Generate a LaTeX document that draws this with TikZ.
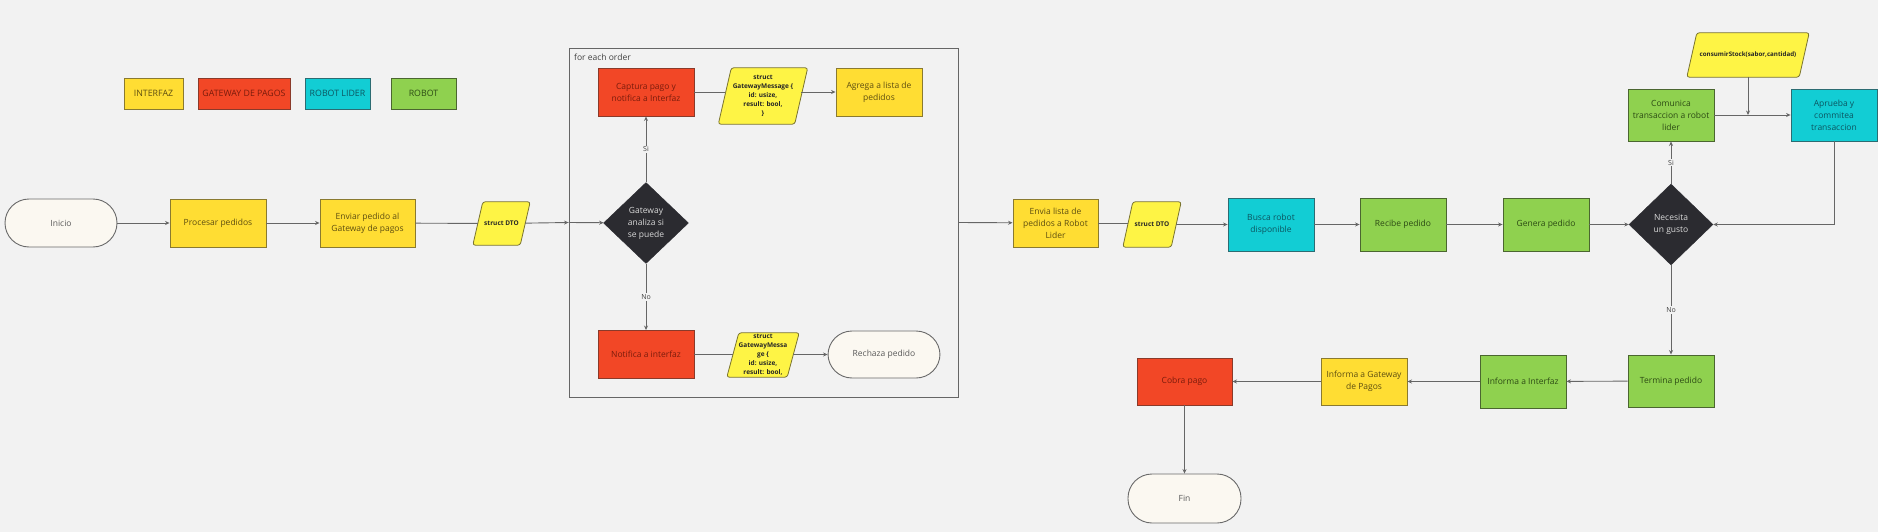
\documentclass[tikz,border=0pt]{standalone}
\usepackage{fontspec}
\setmainfont{Open Sans}
\usetikzlibrary{shapes.geometric,arrows.meta,backgrounds}
\definecolor{bg}{HTML}{F2F2F2}
\definecolor{yfill}{HTML}{FFDD33}
\definecolor{ydraw}{HTML}{8A7A30}
\definecolor{ytext}{HTML}{5E4E10}
\definecolor{rfill}{HTML}{F24726}
\definecolor{rdraw}{HTML}{8A3A2A}
\definecolor{rtext}{HTML}{7A1C0C}
\definecolor{cfill}{HTML}{12CDD4}
\definecolor{cdraw}{HTML}{2C6C72}
\definecolor{ctext}{HTML}{0C5560}
\definecolor{gfill}{HTML}{8FD14F}
\definecolor{gdraw}{HTML}{4B6630}
\definecolor{gtext}{HTML}{2C4A14}
\definecolor{dfill}{HTML}{2B2B30}
\definecolor{pfill}{HTML}{FEF445}
\definecolor{pdraw}{HTML}{7A7430}
\definecolor{tfill}{HTML}{FBF8F1}
\definecolor{tdraw}{HTML}{6A6A6A}
\definecolor{lcol}{HTML}{666666}
\tikzset{
  box/.style={rectangle, draw, line width=0.9pt, minimum width=96pt, minimum height=48pt,
    inner sep=2pt, align=center, font=\fontsize{8.5}{12}\selectfont},
  ybox/.style={box, fill=yfill, draw=ydraw, text=ytext},
  rbox/.style={box, fill=rfill, draw=rdraw, text=rtext},
  cbox/.style={box, fill=cfill, draw=cdraw, text=ctext},
  gbox/.style={box, fill=gfill, draw=gdraw, text=gtext},
  legbox/.style={rectangle, draw, line width=0.9pt, minimum height=31pt, inner sep=1pt,
    font=\fontsize{8.8}{10}\selectfont},
  term/.style={rectangle, rounded corners=24pt, draw=tdraw, fill=tfill, line width=0.9pt,
    text=black!65, minimum height=48pt, font=\fontsize{8.5}{12}\selectfont},
  dec/.style={diamond, fill=dfill, draw=dfill, text=white!85!black, inner sep=0pt,
    minimum width=85pt, minimum height=81pt, align=center, font=\fontsize{8.5}{12}\selectfont},
  para/.style={rectangle, inner sep=0pt, align=center, text=black!85,
    font=\bfseries\fontsize{6.5}{9}\selectfont},
  parashape/.style={rounded corners=2.5pt, fill=pfill, draw=pdraw, line width=0.8pt},
  conn/.style={draw=lcol, line width=0.9pt},
  arr/.style={conn, -{Stealth[length=4.5pt,width=4pt]}},
  lab/.style={fill=bg, inner sep=1.2pt, text=black!75, font=\fontsize{7}{8}\selectfont},
}
\newcommand{\pgram}[2]{%
  \begin{pgfonlayer}{background}
  \draw[parashape] ([xshift=-#2]#1.south west) -- ([xshift=#2]#1.north west)
    -- ([xshift=#2]#1.north east) -- ([xshift=-#2]#1.south east) -- cycle;
  \end{pgfonlayer}}
\begin{document}
\begin{tikzpicture}[x=1pt,y=-1pt]
\begin{pgfonlayer}{background}
\fill[bg] (0,0) rectangle (1878,532);
\end{pgfonlayer}
\useasboundingbox (0,0) rectangle (1878,532);

% legend
\node[legbox, fill=yfill, draw=ydraw, text=ytext, minimum width=59pt] (l1) at (153.5,93.5) {INTERFAZ};
\node[legbox, fill=rfill, draw=rdraw, text=rtext, minimum width=92pt] (l2) at (244,93.5) {GATEWAY DE PAGOS};
\node[legbox, fill=cfill, draw=cdraw, text=ctext, minimum width=65pt] (l3) at (337.5,93.5) {ROBOT LIDER};
\node[legbox, fill=gfill, draw=gdraw, text=gtext, minimum width=65pt] (l4) at (423.5,93.5) {ROBOT};

% frame
\node[rectangle, draw=black!60, line width=0.9pt, minimum width=389pt, minimum height=349pt] (frame) at (763.5,222.5) {};
\node[anchor=west, inner sep=0pt, text=black!75, font=\fontsize{8.5}{10}\selectfont] (fl) at (574,57) {for each order};

% main row
\node[term, minimum width=112pt] (ini) at (61,223) {Inicio};
\node[ybox] (proc) at (218,223) {Procesar pedidos};
\node[ybox, minimum width=95pt] (env) at (367.5,223) {Enviar pedido al\\Gateway de pagos};
\node[para, minimum width=47pt, minimum height=43pt] (dto1) at (501.5,223.5) {struct DTO};
\pgram{dto1}{5pt}

\node[dec] (gw) at (646,223) {Gateway\\analiza si\\se puede};
\node[rbox] (cap) at (646,92) {Captura pago y\\notifica a Interfaz};
\node[para, minimum width=76pt, minimum height=56pt] (gm1) at (763,96) {struct\\GatewayMessage \{\\id: usize,\\result: bool,\\\}};
\pgram{gm1}{6.5pt}
\node[ybox, minimum width=86pt] (agr) at (879,92) {Agrega a lista de\\pedidos};
\node[rbox] (not) at (646,354.5) {Notifica a interfaz};
\node[para, minimum width=60pt, minimum height=44pt] (gm2) at (763,355) {struct\\GatewayMessa\\ge \{\\id: usize,\\result: bool,};
\pgram{gm2}{6pt}
\node[term, minimum width=112pt, minimum height=47pt] (rech) at (884,354.5) {Rechaza pedido};

\node[ybox, minimum width=85pt] (envl) at (1055.5,223) {Envia lista de\\pedidos a Robot\\Lider};
\node[para, minimum width=48pt, minimum height=45pt] (dto2) at (1152,224.5) {struct DTO};
\pgram{dto2}{5pt}
\node[cbox, minimum width=86pt, minimum height=53pt] (bus) at (1271,224.5) {Busca robot\\disponible};
\node[gbox, minimum width=86pt, minimum height=53pt] (rec) at (1403,224.5) {Recibe pedido};
\node[gbox, minimum width=86pt, minimum height=53pt] (gen) at (1546,224.5) {Genera pedido};
\node[dec, minimum width=84pt] (nec) at (1671,224.5) {Necesita\\un gusto};
\node[gbox, minimum width=86pt, minimum height=52pt] (com) at (1671,115) {Comunica\\transaccion a robot\\lider};
\node[cbox, minimum width=86pt, minimum height=52pt] (apr) at (1834,115) {Aprueba y\\commitea\\transaccion};
\node[para, minimum width=112pt, minimum height=44pt, font=\bfseries\fontsize{6.2}{7.5}\selectfont] (cs) at (1748,55) {consumirStock(sabor,cantidad)};
\pgram{cs}{5pt}
\coordinate (jn) at (1748,115);

\node[gbox, minimum width=86pt, minimum height=52pt] (ter) at (1671,381) {Termina pedido};
\node[gbox, minimum width=86pt, minimum height=53pt] (infi) at (1523,381.5) {Informa a Interfaz};
\node[ybox, minimum width=86pt, minimum height=47pt] (infg) at (1364,381.5) {Informa a Gateway\\de Pagos};
\node[rbox, minimum width=95pt, minimum height=47pt] (cob) at (1184.5,381.5) {Cobra pago};
\node[term, minimum width=113pt, minimum height=49pt] (fin) at (1184.5,498.5) {Fin};

% connectors
\draw[arr] (ini) -- (proc);
\draw[arr] (proc) -- (env);
\draw[conn] (env) -- (dto1);
\draw[arr] (dto1) -- (frame.west);
\draw[arr] (frame.west) -- (gw);
\draw[arr] (gw) -- node[lab] {Si} (cap);
\draw[conn] (cap) -- (cap -| gm1.west);
\draw[arr] (cap -| gm1.east) -- (agr);
\draw[arr] (gw) -- node[lab] {No} (not);
\draw[conn] (not) -- (not -| gm2.west);
\draw[arr] (not -| gm2.east) -- (rech);
\draw[arr] (frame.east) -- (envl);
\draw[conn] (envl.east) -- (envl.east -| dto2.west);
\draw[arr] (dto2.east |- bus.west) -- (bus);
\draw[arr] (bus) -- (rec);
\draw[arr] (rec) -- (gen);
\draw[arr] (gen) -- (nec);
\draw[arr] (nec) -- node[lab] {Si} (com);
\draw[arr] (com) -- (apr);
\draw[arr] (cs.south) -- (jn);
\draw[arr] (apr.south) |- (nec.east);
\draw[arr] (nec) -- node[lab] {No} (ter);
\draw[arr] (ter) -- (infi);
\draw[arr] (infi) -- (infg);
\draw[arr] (infg) -- (cob);
\draw[arr] (cob) -- (fin);
\end{tikzpicture}
\end{document}
